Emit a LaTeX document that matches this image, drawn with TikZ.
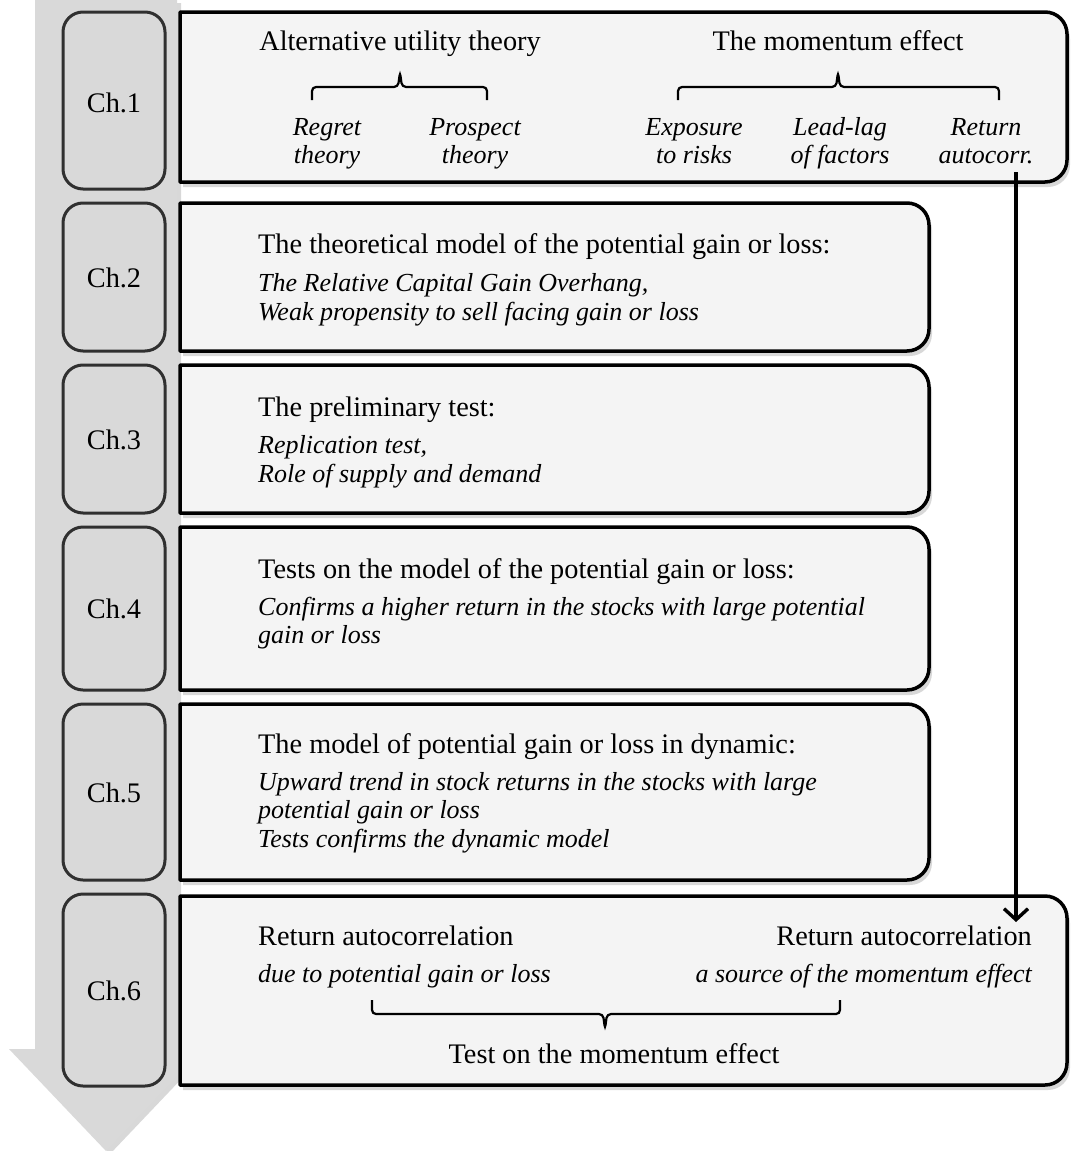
\documentclass[tikz,border=0pt]{standalone}
\usepackage{fontspec}
\setmainfont{Liberation Serif}
\usetikzlibrary{arrows.meta,shadows}
\definecolor{bandgray}{HTML}{D9D9D9}
\definecolor{boxfill}{HTML}{F4F4F4}
\definecolor{chline}{HTML}{303030}
\tikzset{
  band/.style={fill=bandgray, draw=none, drop shadow={shadow xshift=4pt, shadow yshift=-3pt, opacity=0.3}},
  chbox/.style={fill=bandgray, draw=chline, line width=3pt, rounded corners=20pt},
  mainbox/.style={fill=boxfill, draw=black, line width=3.5pt, line join=round, drop shadow={shadow xshift=3pt, shadow yshift=-5pt, opacity=0.3}},
  ttl/.style={font=\fontsize{28.3}{32}\selectfont, inner sep=0pt, text=black},
  itl/.style={font=\fontsize{26}{29}\selectfont\itshape, inner sep=0pt, text=black},
  chlab/.style={font=\fontsize{28.3}{32}\selectfont, inner sep=0pt, anchor=base},
  bracepath/.style={draw=black, line width=2.2pt, rounded corners=4pt},
  conn/.style={draw=black, line width=3.4pt, -{Straight Barb[length=11pt,width=24pt]}}
}
\newcommand{\rbox}[4]{%
  \path[mainbox] (#1,#2) -- ({#3-22},#2) arc[start angle=90,end angle=0,radius=22pt]
    -- (#3,{#4-22}) arc[start angle=0,end angle=-90,radius=22pt] -- (#1,#4) -- cycle;}
\begin{document}
\begin{tikzpicture}[x=1pt,y=-1pt]
\useasboundingbox[fill=white] (0,0) rectangle (1071,1151);
% gray progress arrow
\path[band] (35,0) -- (177,0) -- (177,1049) -- (203,1049) -- (106,1151) -- (9,1049) -- (35,1049) -- cycle;
% chapter boxes
\path[chbox] (63,12) rectangle (165,189);
\path[chbox] (63,203) rectangle (165,351);
\path[chbox] (63,365) rectangle (165,513);
\path[chbox] (63,527) rectangle (165,690);
\path[chbox] (63,704) rectangle (165,880);
\path[chbox] (63,894) rectangle (165,1086);
\node[chlab] (ch1) at (114,112) {Ch.1};
\node[chlab] (ch2) at (114,287) {Ch.2};
\node[chlab] (ch3) at (114,449) {Ch.3};
\node[chlab] (ch4) at (114,618) {Ch.4};
\node[chlab] (ch5) at (114,802) {Ch.5};
\node[chlab] (ch6) at (114,1000) {Ch.6};
% main boxes
\rbox{180}{12}{1067}{182}
\rbox{180}{203}{929}{351}
\rbox{180}{365}{929}{513}
\rbox{180}{527}{929}{690}
\rbox{180}{704}{929}{880}
\rbox{180}{896}{1067}{1085}
% box 1
\node[ttl,anchor=base] (aut) at (400,50) {Alternative utility theory};
\node[ttl,anchor=base] (mom) at (838,50) {The momentum effect};
\node[itl,anchor=base] (reg1) at (327,135) {Regret};
\node[itl,anchor=base] (reg2) at (327,163) {theory};
\node[itl,anchor=base] (pro1) at (475,135) {Prospect};
\node[itl,anchor=base] (pro2) at (475,163) {theory};
\node[itl,anchor=base] (exp1) at (694,135) {Exposure};
\node[itl,anchor=base] (exp2) at (694,163) {to risks};
\node[itl,anchor=base] (lea1) at (840,135) {Lead-lag};
\node[itl,anchor=base] (lea2) at (840,163) {of factors};
\node[itl,anchor=base] (ret1) at (986,135) {Return};
\node[itl,anchor=base] (ret2) at (986,163) {autocorr.};
\path[bracepath] (312,100) -- (312,87) -- (398,87) -- (400,72) -- (402,87) -- (487,87) -- (487,100);
\path[bracepath] (678,100) -- (678,87) -- (836,87) -- (838,72) -- (840,87) -- (999,87) -- (999,100);
% box 2
\node[ttl,anchor=base west] (t2) at (258,253) {The theoretical model of the potential gain or loss:};
\node[itl,anchor=base west] (t2a) at (258,291) {The Relative Capital Gain Overhang,};
\node[itl,anchor=base west] (t2b) at (258,320) {Weak propensity to sell facing gain or loss};
% box 3
\node[ttl,anchor=base west] (t3) at (258,416) {The preliminary test:};
\node[itl,anchor=base west] (t3a) at (258,453) {Replication test,};
\node[itl,anchor=base west] (t3b) at (258,482) {Role of supply and demand};
% box 4
\node[ttl,anchor=base west] (t4) at (258,578) {Tests on the model of the potential gain or loss:};
\node[itl,anchor=base west] (t4a) at (258,615) {Confirms a higher return in the stocks with large potential};
\node[itl,anchor=base west] (t4b) at (258,643) {gain or loss};
% box 5
\node[ttl,anchor=base west] (t5) at (258,753) {The model of potential gain or loss in dynamic:};
\node[itl,anchor=base west] (t5a) at (258,790) {Upward trend in stock returns in the stocks with large};
\node[itl,anchor=base west] (t5b) at (258,818) {potential gain or loss};
\node[itl,anchor=base west] (t5c) at (258,847) {Tests confirms the dynamic model};
% box 6
\node[ttl,anchor=base west] (t6l) at (258,945) {Return autocorrelation};
\node[itl,anchor=base west] (t6la) at (258,982) {due to potential gain or loss};
\node[ttl,anchor=base east] (t6r) at (1032,945) {Return autocorrelation};
\node[itl,anchor=base east] (t6ra) at (1032,982) {a source of the momentum effect};
\node[ttl,anchor=base] (t6b) at (614,1063) {Test on the momentum effect};
\path[bracepath] (372,1000) -- (372,1014) -- (603,1014) -- (605,1029) -- (607,1014) -- (840,1014) -- (840,1000);
% connector
\coordinate (arrS) at (1016,172);
\coordinate (arrE) at (1016,922);
\draw[conn] (arrS) -- (arrE);
\end{tikzpicture}
\end{document}
